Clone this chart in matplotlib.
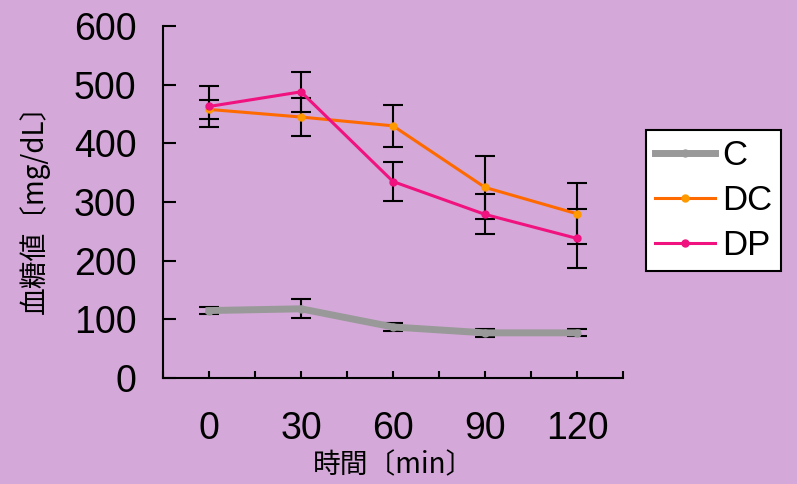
import matplotlib
matplotlib.use("Agg")
import matplotlib.pyplot as plt
import numpy as np

# data
times = [0, 30, 60, 90, 120]
c_mean = [115, 118, 87, 77, 77]
c_err = [6, 16, 7, 7, 6]
dc_mean = [458, 445, 430, 325, 280]
dc_err = [16, 33, 36, 54, 52]
dp_mean = [463, 488, 335, 279, 238]
dp_err = [35, 34, 34, 34, 50]

bg = "#d4a8d8"
plt.rcParams['font.family'] = ['Liberation Sans', 'DejaVu Sans']
jp = ['Noto Sans CJK JP', 'DejaVu Sans']

fig = plt.figure(figsize=(7.97, 4.84), dpi=100, facecolor=bg)
ax = fig.add_axes([0.2045, 0.219, 0.5772, 0.727], facecolor=bg)

# error bars first so the markers sit on top
for m, e in [(c_mean, c_err), (dc_mean, dc_err), (dp_mean, dp_err)]:
    ax.errorbar(times, m, yerr=e, fmt='none', ecolor='black',
                elinewidth=1.5, capsize=7, capthick=1.5, zorder=2)

ax.plot(times, c_mean, color='#999999', lw=5, marker='o', ms=5,
        mfc='#999999', mec='#999999', label='C', zorder=3)
ax.plot(times, dc_mean, color='#ff6a00', lw=2.2, marker='o', ms=5,
        mfc='#ff9900', mec='#ff9900', label='DC', zorder=4)
ax.plot(times, dp_mean, color='#f0127f', lw=2.2, marker='o', ms=5,
        mfc='#f0127f', mec='#f0127f', label='DP', zorder=5)

ax.set_xlim(-15, 135)
ax.set_ylim(0, 600)
ax.set_xticks(times)
ax.set_xticks(np.arange(-15, 136, 15), minor=True)
ax.set_yticks(range(0, 601, 100))

for s in ['top', 'right']:
    ax.spines[s].set_visible(False)
for s in ['left', 'bottom']:
    ax.spines[s].set_linewidth(1.5)

ax.tick_params(axis='y', direction='in', length=9, width=1.5,
               labelsize=27, pad=19)
ax.tick_params(axis='x', which='both', direction='in', length=5, width=1.5,
               labelsize=27, pad=24)

ax.set_ylabel('血糖値〔mg/dL〕', family=jp, fontsize=20, labelpad=17)
ax.set_xlabel('時間〔min〕', family=jp, fontsize=20, labelpad=2)

leg = fig.legend(loc='upper left', bbox_to_anchor=(0.8105, 0.7314),
                 fontsize=25, frameon=True, fancybox=False, framealpha=1,
                 handlelength=1.75, handletextpad=0.2, labelspacing=0.35,
                 borderpad=0.25, borderaxespad=0)
leg.get_frame().set_edgecolor('black')
leg.get_frame().set_linewidth(1.5)
leg.get_frame().set_facecolor('white')

fig.savefig('out.png', dpi=100, facecolor=bg)
